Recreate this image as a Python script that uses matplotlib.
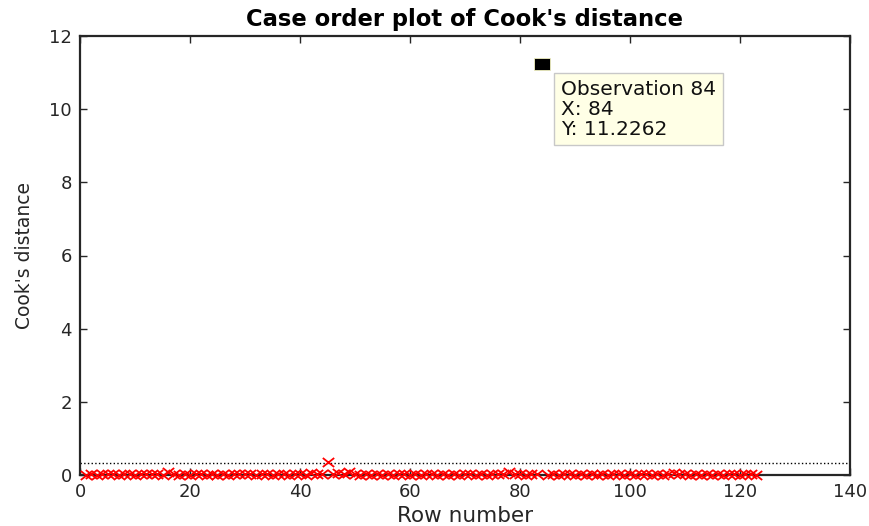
import numpy as np
import matplotlib.pyplot as plt
from matplotlib.path import Path

# Cook's distance per observation (rows 1..123)
cooks_d = [
    0.012, 0.018, 0.010, 0.025, 0.015, 0.030, 0.011, 0.020, 0.014, 0.009,
    0.022, 0.016, 0.019, 0.027, 0.013, 0.080, 0.017, 0.010, 0.021, 0.012,
    0.015, 0.024, 0.011, 0.018, 0.013, 0.020, 0.010, 0.016, 0.014, 0.019,
    0.023, 0.012, 0.030, 0.015, 0.011, 0.026, 0.018, 0.013, 0.035, 0.017,
    0.012, 0.060, 0.028, 0.020, 0.345, 0.030, 0.050, 0.015, 0.075, 0.019,
    0.012, 0.016, 0.010, 0.021, 0.013, 0.018, 0.011, 0.015, 0.020, 0.012,
    0.017, 0.010, 0.014, 0.022, 0.013, 0.016, 0.011, 0.019, 0.012, 0.015,
    0.020, 0.010, 0.017, 0.013, 0.021, 0.014, 0.030, 0.080, 0.025, 0.018,
    0.012, 0.016, 0.014, 11.2262, 0.013, 0.018, 0.011, 0.020, 0.015, 0.012,
    0.017, 0.010, 0.019, 0.013, 0.016, 0.011, 0.021, 0.014, 0.012, 0.018,
    0.010, 0.015, 0.020, 0.013, 0.017, 0.011, 0.025, 0.050, 0.020, 0.014,
    0.012, 0.018, 0.010, 0.016, 0.013, 0.019, 0.011, 0.015, 0.022, 0.012,
    0.017, 0.014, 0.010,
]
rows = np.arange(1, len(cooks_d) + 1)
threshold = 3 * np.mean(cooks_d)
tip_obs = 84

plt.rcParams['font.family'] = ['DejaVu Sans']

fig = plt.figure(figsize=(8.69, 5.26), dpi=100)
ax = fig.add_axes([80 / 869, 1 - 475 / 526, 770 / 869, 439 / 526])

# slightly wide cross, the original picture is stretched sideways
wide_x = Path([(-1.2, -0.95), (1.2, 0.95), (-1.2, 0.95), (1.2, -0.95)],
              [Path.MOVETO, Path.LINETO, Path.MOVETO, Path.LINETO])
ax.plot(rows, cooks_d, linestyle='none', marker=wide_x, markersize=8.2,
        markeredgewidth=1.3, markeredgecolor='red', markerfacecolor='none',
        clip_on=False, zorder=3)
ax.plot([0, 140], [threshold, threshold], ':', color='black', linewidth=1.0)

# data tip (marker is a bit wider than tall, like the original)
tip_marker = [(-1.45, -1), (1.45, -1), (1.45, 1), (-1.45, 1), (-1.45, -1)]
ax.plot(tip_obs, cooks_d[tip_obs - 1], marker=tip_marker, color='black',
        markersize=11.5, markeredgewidth=0.6, markeredgecolor='#f0f0c0', zorder=4)
ax.annotate("Observation %d\nX: %d\nY: %.4f" % (tip_obs, tip_obs, cooks_d[tip_obs - 1]),
            xy=(tip_obs, cooks_d[tip_obs - 1]), xytext=(13.5, -11),
            textcoords='offset points', ha='left', va='top', fontsize=14.5,
            linespacing=1.07, color='#111111', zorder=5,
            bbox=dict(boxstyle='square,pad=0.33', fc='#ffffe6', ec='#c8c8c8', lw=1))

ax.set_xlim(0, 140)
ax.set_ylim(0, 12)
ax.set_xticks(range(0, 141, 20))
ax.set_yticks(range(0, 13, 2))
ax.tick_params(direction='in', top=True, right=True, length=5, width=1,
               labelsize=13, colors='#262626', pad=6)
for s in ax.spines.values():
    s.set_linewidth(1.6)
    s.set_color('#262626')

ax.set_xlabel("Row number", fontsize=15.5, color='#262626', labelpad=3)
ax.set_ylabel("Cook's distance", fontsize=13.5, color='#262626', labelpad=11)
ax.set_title("Case order plot of Cook's distance", fontsize=16.3, fontweight='bold', pad=7)

fig.savefig('out.png', dpi=100)
